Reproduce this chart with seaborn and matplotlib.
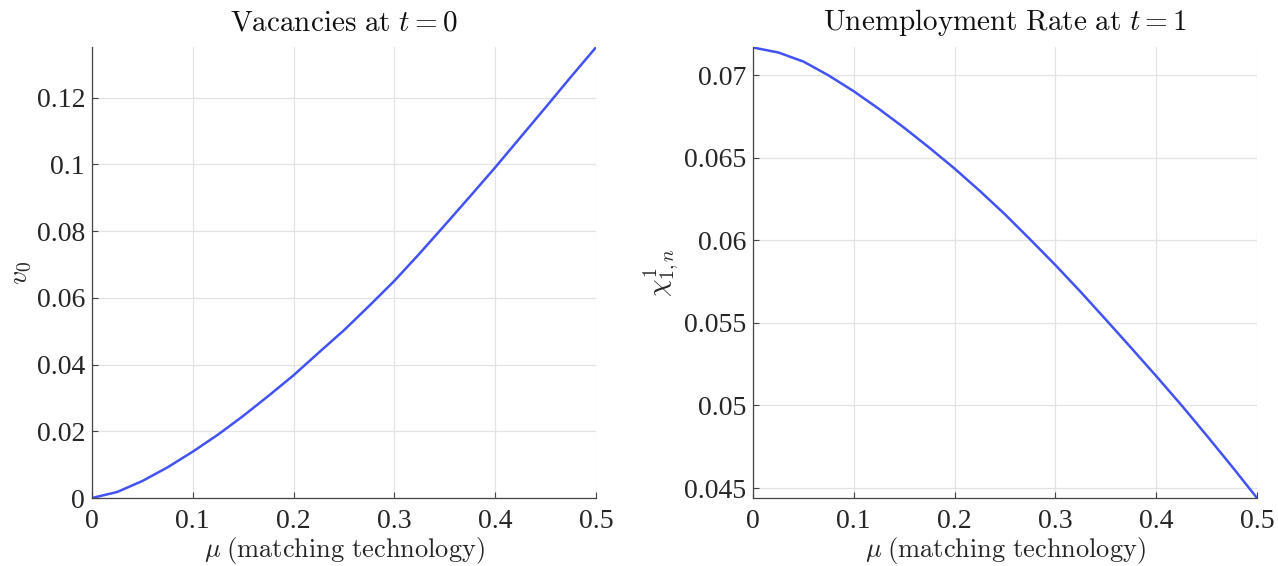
import numpy as np
import pandas as pd
import matplotlib
matplotlib.use("Agg")
import matplotlib.pyplot as plt
import seaborn as sns

mu = [0.0, 0.025, 0.05, 0.075, 0.1, 0.125, 0.15, 0.175, 0.2, 0.225, 0.25,
      0.275, 0.3, 0.325, 0.35, 0.375, 0.4, 0.425, 0.45, 0.475, 0.5]
v0 = [0.0, 0.0018, 0.0051, 0.0092, 0.0139, 0.0190, 0.0246, 0.0306, 0.0368, 0.0436, 0.0503,
      0.0576, 0.0651, 0.0733, 0.0818, 0.0904, 0.0991, 0.1081, 0.1171, 0.1262, 0.1351]
chi = [0.07167, 0.07137, 0.07082, 0.06998, 0.06902, 0.06795, 0.06681, 0.06560, 0.06434, 0.06299, 0.06157,
       0.06005, 0.05850, 0.05688, 0.05520, 0.05350, 0.05178, 0.05002, 0.04819, 0.04632, 0.04440]

xticks = [0, 0.1, 0.2, 0.3, 0.4, 0.5]
xticklabels = ["0", "0.1", "0.2", "0.3", "0.4", "0.5"]
yticks_left = [0, 0.02, 0.04, 0.06, 0.08, 0.1, 0.12]
yticklabels_left = ["0", "0.02", "0.04", "0.06", "0.08", "0.1", "0.12"]
yticks_right = [0.045, 0.05, 0.055, 0.06, 0.065, 0.07]
yticklabels_right = ["0.045", "0.05", "0.055", "0.06", "0.065", "0.07"]

sns.set_theme(style="white")
plt.rcParams["font.family"] = ["Liberation Serif", "DejaVu Serif"]
plt.rcParams["mathtext.fontset"] = "cm"

df = pd.DataFrame({"mu": mu, "v0": v0, "chi": chi})

fig = plt.figure(figsize=(12.78, 5.66), dpi=100)
W, H = 1278, 566
ax1 = fig.add_axes([92 / W, 1 - 498 / H, (596 - 92) / W, (498 - 47) / H])
ax2 = fig.add_axes([753 / W, 1 - 498 / H, (1257 - 753) / W, (498 - 47) / H])

line_color = "#4352F4"

def style(ax, yt, ytl, ylim, title, ylabel):
    ax.set_xlim(0, 0.5)
    ax.set_ylim(*ylim)
    ax.set_xticks(xticks)
    ax.set_xticklabels(xticklabels)
    ax.set_yticks(yt)
    ax.set_yticklabels(ytl)
    ax.grid(True, color="#e3e3e3", linewidth=0.9)
    ax.set_axisbelow(True)
    for s in ["top", "right"]:
        ax.spines[s].set_visible(False)
    for s in ["left", "bottom"]:
        ax.spines[s].set_color("#444444")
        ax.spines[s].set_linewidth(0.9)
    ax.tick_params(direction="in", length=4, width=0.8, colors="#444444",
                   labelsize=20, labelcolor="#262626", left=True, bottom=True, pad=5)
    ax.tick_params(axis="x", pad=8)
    ax.set_title(title, fontsize=21, pad=12, color="#111111")
    ax.set_xlabel(r"$\mu$ $\mathrm{(matching\ technology)}$", fontsize=19, labelpad=1, color="#262626")
    ax.set_ylabel(ylabel, fontsize=20, labelpad=2, color="#262626")

sns.lineplot(data=df, x="mu", y="v0", ax=ax1, color=line_color, linewidth=1.8)
style(ax1, yticks_left, yticklabels_left, (0, 0.1352),
      r"$\mathrm{Vacancies\ at\ }t=0$", r"$v_0$")

sns.lineplot(data=df, x="mu", y="chi", ax=ax2, color=line_color, linewidth=1.8)
style(ax2, yticks_right, yticklabels_right, (0.0444, 0.0717),
      r"$\mathrm{Unemployment\ Rate\ at\ }t=1$", r"$\chi^{1}_{1,n}$")

fig.savefig("out.png", dpi=100)
